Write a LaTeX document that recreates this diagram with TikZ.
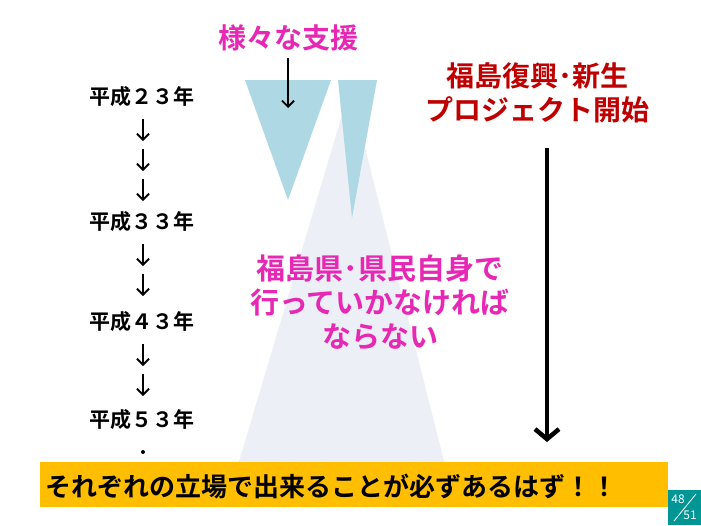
\documentclass[tikz,border=0pt]{standalone}
\usepackage{fontspec}
\setmainfont{Noto Sans CJK JP}[BoldFont={Noto Sans CJK JP Bold}]
\usetikzlibrary{arrows.meta}
\definecolor{mag}{RGB}{230,40,180}
\definecolor{dred}{RGB}{190,0,0}
\definecolor{lblue}{RGB}{174,216,228}
\definecolor{faint}{RGB}{236,240,246}
\definecolor{yelbar}{RGB}{255,190,0}
\definecolor{teal2}{RGB}{0,150,150}
\begin{document}
\begin{tikzpicture}[x=1pt,y=-1pt,
 yr/.style={font=\bfseries\fontsize{21}{22}\selectfont},
 sarr/.style={-{Straight Barb[length=6pt,width=12pt]},line width=1.8pt},
 lbl/.style={font=\bfseries\fontsize{28}{34}\selectfont,align=center}]
\useasboundingbox (0,0) rectangle (701,525);
\fill[white] (0,0) rectangle (701,525);
\fill[faint] (350,88) -- (238,465) -- (445,465) -- cycle;
\fill[lblue] (245,80) -- (331,80) -- (288,200) -- cycle;
\fill[lblue] (338,80) -- (377,80) -- (352,218) -- cycle;
\node[lbl,text=mag] (sup) at (288,38) {様々な支援};
\coordinate (s1) at (288,58); \coordinate (s2) at (288,108);
\draw[sarr] (s1) -- (s2);
\node[lbl,text=dred] (pj) at (537,93) {福島復興･新生\\プロジェクト開始};
\node[lbl,text=mag,font=\bfseries\fontsize{29}{34}\selectfont] (mid) at (380,302) {福島県･県民自身で\\行っていかなければ\\ならない};
\node[yr] (y1) at (142,97) {平成２３年};
\node[yr] (y2) at (142,222) {平成３３年};
\node[yr] (y3) at (142,322) {平成４３年};
\node[yr] (y4) at (142,420) {平成５３年};
\foreach \y in {130,160,190,255,285,355,385}
  \draw[sarr] (143,\y-11) -- (143,\y+11);
\fill (143,452) circle (2);
\coordinate (b1) at (547,148); \coordinate (b2) at (547,442);
\draw[-{Straight Barb[length=10pt,width=24pt]},line width=4.5pt] (b1) -- (b2);
\fill[yelbar] (40,462) rectangle (668,507);
\node[font=\bfseries\fontsize{26}{27}\selectfont,anchor=west] (bt) at (42,486) {それぞれの立場で出来ることが必ずあるはず！！};
\fill[teal2] (668,490) rectangle (701,525);
\draw[white,line width=0.8pt] (674,521) -- (696,494);
\node[white,font=\fontsize{12}{12}\selectfont] (p1) at (678,499) {48};
\node[white,font=\fontsize{12}{12}\selectfont] (p2) at (690,515) {51};
\end{tikzpicture}
\end{document}
